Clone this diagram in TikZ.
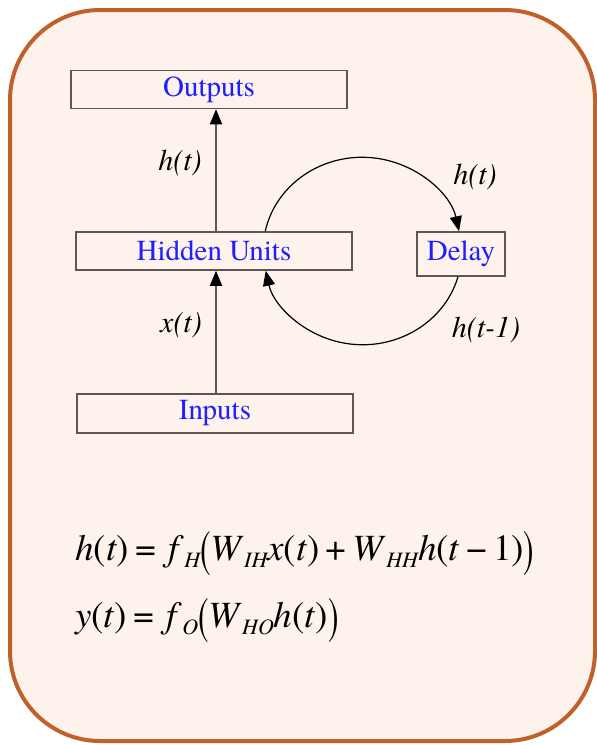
\documentclass[tikz,border=0pt]{standalone}
\usepackage{fontspec}
\setmainfont{TeX Gyre Termes}
\newfontfamily\tms{TeX Gyre Termes}
\usetikzlibrary{arrows.meta,calc}
\definecolor{bgfill}{HTML}{FDF2EC}
\definecolor{frame}{HTML}{C0612B}
\definecolor{boxline}{HTML}{5E5654}
\definecolor{txtblue}{HTML}{1E1EFF}
\newcommand\sbs[1]{\raisebox{-0.19em}{\fontsize{22}{22}\selectfont\itshape #1}}
\newcommand\bigpar[1]{\raisebox{-0.18em}{\scalebox{0.85}[1.4]{#1}}}
\tikzset{
  box/.style={draw=boxline, line width=1.5pt, rectangle, inner sep=0pt,
    text=txtblue, font=\tms\fontsize{29}{29}\selectfont},
  arr/.style={draw=boxline, line width=1.6pt, -{Triangle[length=15pt,width=12pt,black]}},
  loop/.style={draw=black, line width=1.2pt, -{Triangle[length=15pt,width=12pt]}},
  lbl/.style={font=\tms\fontsize{30}{30}\selectfont\itshape, inner sep=0pt},
  eq/.style={font=\tms\fontsize{37}{37}\selectfont, inner sep=0pt, anchor=base west}
}
\begin{document}
\begin{tikzpicture}[x=1pt,y=1pt]
\useasboundingbox (0,0) rectangle (597,-745);
\draw[frame, fill=bgfill, line width=4pt, rounded corners=90pt] (10,-10) rectangle (595,-741);

\node[box, minimum width=276pt, minimum height=38pt] (out) at (209,-89.5) {Outputs};
\node[box, minimum width=276pt, minimum height=38pt] (hid) at (214,-251) {Hidden Units};
\node[box, minimum width=88pt, minimum height=44pt] (dly) at (461,-254) {Delay};
\node[box, minimum width=276pt, minimum height=39pt] (inp) at (215,-413.5) {Inputs};

\draw[arr] ([xshift=2pt]hid.north) -- ([xshift=2pt]hid.north |- out.south);
\draw[arr] ([xshift=1pt]inp.north) -- ([xshift=1pt]inp.north |- hid.south);

\coordinate (ltop) at ($(hid.north west)+(190,0)$);
\draw[loop] (ltop) arc[start angle=168.2, end angle=11.8, x radius=99, y radius=93];
\coordinate (dbot) at ($(dly.south)+(-3,0)$);
\draw[loop] (dbot) arc[start angle=-15.6, end angle=-168.2, x radius=99, y radius=93];

\node[lbl] (l1) at (180,-163) {h(t)};
\node[lbl] (l2) at (181,-325) {x(t)};
\node[lbl] (l3) at (475,-177) {h(t)};
\node[lbl] (l4) at (486,-330) {h(t-1)};

\node[eq] (e1) at (75,-560) {\textit{h}(\textit{t})\,=\,\,\textit{f}\sbs{H}\bigpar{(}\textit{W}\sbs{IH}\textit{x}(\textit{t})\,+\,\textit{W}\sbs{HH}\textit{h}(\textit{t}\,−\,1)\bigpar{)}};
\node[eq] (e2) at (75,-627) {\textit{y}(\textit{t})\,=\,\,\textit{f}\sbs{O}\bigpar{(}\textit{W}\sbs{HO}\textit{h}(\textit{t})\bigpar{)}};
\end{tikzpicture}
\end{document}
